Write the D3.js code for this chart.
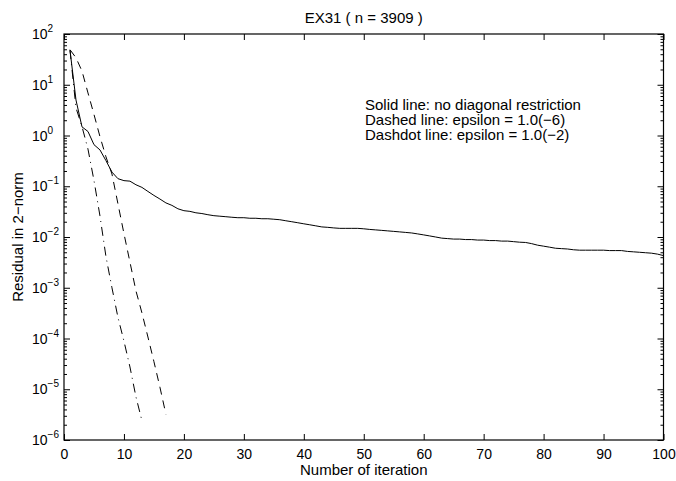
<!DOCTYPE html>
<html>
<head>
<meta charset="utf-8">
<script src="https://cdn.jsdelivr.net/npm/d3@7"></script>
<style>
  body { margin: 0; background: #fff; }
  text { font-family: "Liberation Sans", Arial, sans-serif; fill: #000; }
</style>
</head>
<body>
<div id="chart"></div>
<script>
// Chart size and plot box
const width = 676;
const height = 481;
const margin = { top: 34, right: 12.5, bottom: 41, left: 64 };

// Data: residual per iteration (iteration 1, 2, 3, ...)
const solidResidual = [
  48, 5.0, 1.48, 1.20, 0.66, 0.52, 0.32, 0.19, 0.141, 0.129,
  0.126, 0.107, 0.095, 0.079, 0.066, 0.056, 0.047, 0.042, 0.036, 0.033,
  0.032, 0.030, 0.029, 0.0275, 0.0263, 0.0257, 0.0251, 0.0245, 0.0240, 0.0240,
  0.0234, 0.0234, 0.0229, 0.0229, 0.0224, 0.0219, 0.0209, 0.0200, 0.0191, 0.0182,
  0.0174, 0.0166, 0.0158, 0.0155, 0.0151, 0.0148, 0.0148, 0.0148, 0.0148, 0.0145,
  0.0141, 0.0138, 0.0135, 0.0132, 0.0129, 0.0126, 0.0123, 0.0120, 0.0115, 0.0110,
  0.0105, 0.0100, 0.0095, 0.0093, 0.0091, 0.0091, 0.0089, 0.0089, 0.0087, 0.0087,
  0.0085, 0.0085, 0.0083, 0.0083, 0.0081, 0.0079, 0.0078, 0.0074, 0.0069, 0.0066,
  0.0063, 0.0060, 0.0059, 0.0058, 0.0056, 0.0055, 0.0055, 0.0055, 0.0055, 0.0055,
  0.0054, 0.0054, 0.0054, 0.0052, 0.0051, 0.0050, 0.0049, 0.0048, 0.0046, 0.0043
];
const dashedResidual = [
  49, 34, 18.6, 6.9, 2.6, 0.95, 0.38, 0.174, 0.045, 0.0117,
  3.2e-3, 8.7e-4, 3.2e-4, 1.07e-4, 3.5e-5, 1.1e-5, 3.2e-6
];
const dashdotResidual = [
  48, 3.5, 1.5, 0.54, 0.13, 0.026, 4.1e-3, 1.0e-3, 2.6e-4, 8.9e-5,
  2.75e-5, 7.1e-6, 2.4e-6
];

const xTicks = [0, 10, 20, 30, 40, 50, 60, 70, 80, 90, 100];
const yExponents = [2, 1, 0, -1, -2, -3, -4, -5, -6];
const legendLines = [
  "Solid line: no diagonal restriction",
  "Dashed line: epsilon = 1.0(\u22126)",
  "Dashdot line: epsilon = 1.0(\u22122)"
];

const svg = d3.select("#chart")
  .append("svg")
  .attr("width", width)
  .attr("height", height);

const x = d3.scaleLinear()
  .domain([0, 100])
  .range([margin.left, width - margin.right]);

const y = d3.scaleLog()
  .domain([1e-6, 1e2])
  .range([height - margin.bottom, margin.top]);

const plotW = width - margin.right - margin.left;
const plotH = height - margin.bottom - margin.top;

// x ticks (bottom with labels, top without)
const xBottom = svg.append("g")
  .attr("transform", `translate(0,${height - margin.bottom})`)
  .call(d3.axisBottom(x).tickValues(xTicks).tickSizeInner(-6).tickSizeOuter(0).tickPadding(9));
xBottom.select(".domain").remove();
xBottom.selectAll("text").style("font-size", "14px");

const xTop = svg.append("g")
  .attr("transform", `translate(0,${margin.top})`)
  .call(d3.axisTop(x).tickValues(xTicks).tickSizeInner(-6).tickSizeOuter(0).tickFormat(""));
xTop.select(".domain").remove();

// y ticks: majors at powers of ten, minors at 2..9
const majors = yExponents.map((e) => Math.pow(10, e));
const minors = y.ticks().filter((v) => !majors.some((m) => Math.abs(v / m - 1) < 1e-9));

[["axisLeft", margin.left], ["axisRight", width - margin.right]].forEach(([fn, pos]) => {
  const gMaj = svg.append("g")
    .attr("transform", `translate(${pos},0)`)
    .call(d3[fn](y).tickValues(majors).tickSizeInner(-6).tickSizeOuter(0).tickFormat(""));
  gMaj.select(".domain").remove();
  const gMin = svg.append("g")
    .attr("transform", `translate(${pos},0)`)
    .call(d3[fn](y).tickValues(minors).tickSizeInner(-3).tickSizeOuter(0).tickFormat(""));
  gMin.select(".domain").remove();
});

// y tick labels as 10 with superscript exponent
const yLabels = svg.append("g");
yExponents.forEach((e) => {
  const t = yLabels.append("text")
    .attr("x", 32)
    .attr("y", y(Math.pow(10, e)) + 5)
    .style("font-size", "14px");
  t.append("tspan").text("10");
  t.append("tspan")
    .attr("dy", -7)
    .style("font-size", "10px")
    .text(e < 0 ? "\u2212" + Math.abs(e) : String(e));
});

// plot box
svg.append("rect")
  .attr("x", margin.left)
  .attr("y", margin.top)
  .attr("width", plotW)
  .attr("height", plotH)
  .attr("fill", "none")
  .attr("stroke", "#000")
  .attr("stroke-width", 1.2);

// curves
const line = d3.line()
  .x((d, i) => x(i + 1))
  .y((d) => y(d));

svg.append("path")
  .datum(solidResidual)
  .attr("d", line)
  .attr("fill", "none")
  .attr("stroke", "#000")
  .attr("stroke-width", 1);

svg.append("path")
  .datum(dashedResidual)
  .attr("d", line)
  .attr("fill", "none")
  .attr("stroke", "#000")
  .attr("stroke-width", 1)
  .attr("stroke-dasharray", "8,6");

svg.append("path")
  .datum(dashdotResidual)
  .attr("d", line)
  .attr("fill", "none")
  .attr("stroke", "#000")
  .attr("stroke-width", 1)
  .attr("stroke-dasharray", "9,5,1,5");

// legend text
legendLines.forEach((s, i) => {
  svg.append("text")
    .attr("x", 365)
    .attr("y", 110 + i * 15)
    .style("font-size", "15px")
    .text(s);
});

// title and axis labels
svg.append("text")
  .attr("x", x(50))
  .attr("y", 23)
  .attr("text-anchor", "middle")
  .style("font-size", "15px")
  .text("EX31 ( n = 3909 )");

svg.append("text")
  .attr("x", x(50))
  .attr("y", 475)
  .attr("text-anchor", "middle")
  .style("font-size", "15px")
  .text("Number of iteration");

svg.append("text")
  .attr("transform", `translate(23,${margin.top + plotH / 2}) rotate(-90)`)
  .attr("text-anchor", "middle")
  .style("font-size", "15px")
  .text("Residual in 2\u2212norm");
</script>
</body>
</html>
